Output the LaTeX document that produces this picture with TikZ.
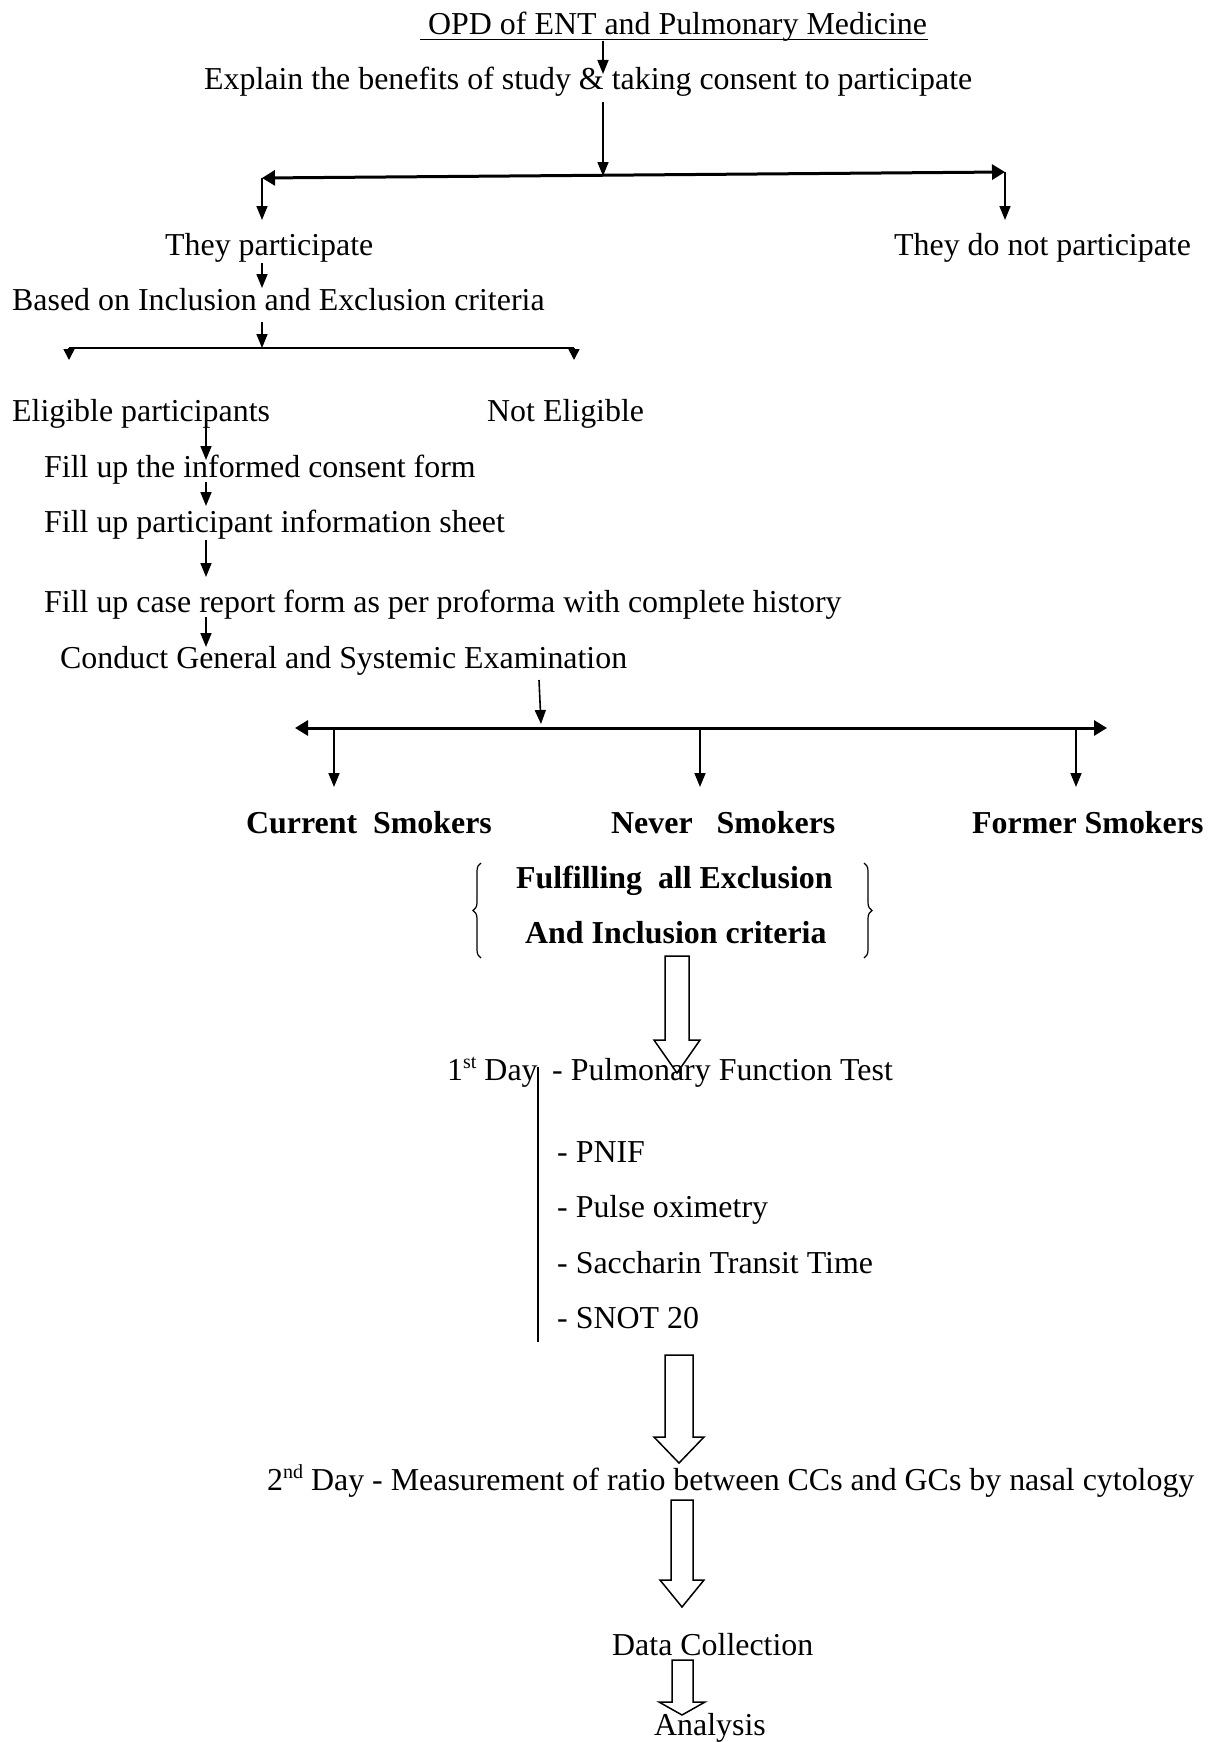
\documentclass[tikz,border=0pt]{standalone}
\usepackage{fontspec}
\setmainfont{Liberation Serif}
\usetikzlibrary{arrows.meta,decorations.pathreplacing}
\newcommand{\mysup}[1]{\raisebox{0.36em}{\fontsize{20}{20}\selectfont #1}}
\begin{document}
\begin{tikzpicture}[x=1pt,y=-1pt,
  txt/.style={inner sep=0pt, anchor=base west, font=\fontsize{31.9}{38}\selectfont},
  btxt/.style={inner sep=0pt, anchor=base west, font=\fontsize{31.9}{38}\selectfont\bfseries},
  arr/.style={line width=1.6pt, -{Triangle[length=14pt,width=11pt]}},
  tri/.style={line width=1.6pt, -{Triangle[length=11pt,width=11pt]}},
  bar/.style={line width=3pt, {Triangle[length=13pt,width=15pt]}-{Triangle[length=13pt,width=15pt]}},
  hollow/.style={draw, line width=1.5pt, line join=miter},
  brc/.style={line width=1.2pt, decorate, decoration={brace, amplitude=8pt}}
]
\useasboundingbox (0,0) rectangle (1208,1742);
\fill[white] (0,0) rectangle (1208,1742);

% texts
\node[txt] (opd) at (428,35) {OPD of ENT and Pulmonary Medicine};
\node[txt] (explain) at (204,90) {Explain the benefits of study \& taking consent to participate};
\node[txt] (part) at (165,255) {They participate};
\node[txt] (nopart) at (894,255) {They do not participate};
\node[txt] (based) at (12,310) {Based on Inclusion and Exclusion criteria};
\node[txt] (elig) at (12,421) {Eligible participants};
\node[txt] (notelig) at (487,421) {Not Eligible};
\node[txt] (icf) at (44,477) {Fill up the informed consent form};
\node[txt] (pis) at (44,532) {Fill up participant information sheet};
\node[txt] (crf) at (44,612) {Fill up case report form as per proforma with complete history};
\node[txt] (exam) at (60,668) {Conduct General and Systemic Examination};
\node[btxt] (cur) at (246,833) {Current\ \ Smokers};
\node[btxt] (never) at (611,833) {Never\ \ \ Smokers};
\node[btxt] (former) at (972,833) {Former Smokers};
\node[btxt] (ful) at (516,888) {Fulfilling\ \ all Exclusion};
\node[btxt] (inc) at (525,943) {And Inclusion criteria};
\node[txt] (day1) at (447,1080) {1\mysup{st} Day};
\node[txt] (pft) at (552,1080) {- Pulmonary Function Test};
\node[txt] (pnif) at (557,1162) {- PNIF};
\node[txt] (pulse) at (557,1217) {- Pulse oximetry};
\node[txt] (sacc) at (557,1273) {- Saccharin Transit Time};
\node[txt] (snot) at (557,1328) {- SNOT 20};
\node[txt] (day2) at (267,1490) {2\mysup{nd} Day - Measurement of ratio between CCs and GCs by nasal cytology};
\node[txt] (data) at (612,1655) {Data Collection};
\node[txt] (anal) at (654,1735) {Analysis};

% underline
\coordinate (ulA) at (420,39.5);
\coordinate (ulB) at (928,39.5);
\draw[line width=1.4pt] (ulA) -- (ulB);

% top part
\coordinate (a1s) at (603,41);
\coordinate (a1e) at (603,74);
\draw[arr] (a1s) -- (a1e);
\coordinate (a2s) at (603,102);
\coordinate (a2e) at (603,176);
\draw[arr] (a2s) -- (a2e);
\coordinate (bl) at (262,178);
\coordinate (br) at (1005,172);
\draw[bar] (bl) -- (br);
\coordinate (ble) at (262,220);
\coordinate (bre) at (1005,220);
\draw[arr] (bl) -- (ble);
\draw[arr] (br) -- (bre);

\coordinate (p1s) at (262,263);
\coordinate (p1e) at (262,288);
\draw[arr] (p1s) -- (p1e);
\coordinate (p2s) at (262,322);
\coordinate (p2e) at (262,348);
\draw[arr] (p2s) -- (p2e);
\coordinate (sl) at (69,348);
\coordinate (sr) at (574,348);
\draw[line width=1.6pt] (sl) -- (sr);
\coordinate (sle) at (69,360);
\coordinate (sre) at (574,360);
\draw[tri] (sl) -- (sle);
\draw[tri] (sr) -- (sre);

% eligible chain
\coordinate (e1s) at (206,427); \coordinate (e1e) at (206,460);
\coordinate (e2s) at (206,482); \coordinate (e2e) at (206,506);
\coordinate (e3s) at (206,540); \coordinate (e3e) at (206,577);
\coordinate (e4s) at (206,617); \coordinate (e4e) at (206,647);
\draw[arr] (e1s) -- (e1e);
\draw[arr] (e2s) -- (e2e);
\draw[arr] (e3s) -- (e3e);
\draw[arr] (e4s) -- (e4e);

% smokers split
\coordinate (x1s) at (539,680);
\coordinate (x1e) at (541,724);
\draw[arr] (x1s) -- (x1e);
\coordinate (cl) at (295,728);
\coordinate (cr) at (1107,728);
\draw[bar] (cl) -- (cr);
\coordinate (c1) at (334,728); \coordinate (c1e) at (334,787);
\coordinate (c2) at (700,728); \coordinate (c2e) at (700,787);
\coordinate (c3) at (1076,728); \coordinate (c3e) at (1076,787);
\draw[arr] (c1) -- (c1e);
\draw[arr] (c2) -- (c2e);
\draw[arr] (c3) -- (c3e);

% braces
\coordinate (lb1) at (481,958); \coordinate (lb2) at (481,863);
\coordinate (rb1) at (864,863); \coordinate (rb2) at (864,958);
\draw[brc] (lb1) -- (lb2);
\draw[brc] (rb1) -- (rb2);

% hollow block arrows
\draw[hollow] (665,956) -- (689,956) -- (689,1040) -- (700,1040) -- (677,1073) -- (654,1040) -- (665,1040) -- cycle;
\draw[hollow] (665,1355) -- (693,1355) -- (693,1437) -- (704,1437) -- (679,1463) -- (654,1437) -- (665,1437) -- cycle;
\draw[hollow] (671,1500) -- (693,1500) -- (693,1580) -- (704,1580) -- (682,1607) -- (660,1580) -- (671,1580) -- cycle;
\draw[hollow] (672,1660) -- (693,1660) -- (693,1702) -- (705,1702) -- (682,1715) -- (659,1702) -- (672,1702) -- cycle;

% day 1 vertical line
\coordinate (v1) at (538,1067);
\coordinate (v2) at (538,1342);
\draw[line width=1.5pt] (v1) -- (v2);
\end{tikzpicture}
\end{document}
